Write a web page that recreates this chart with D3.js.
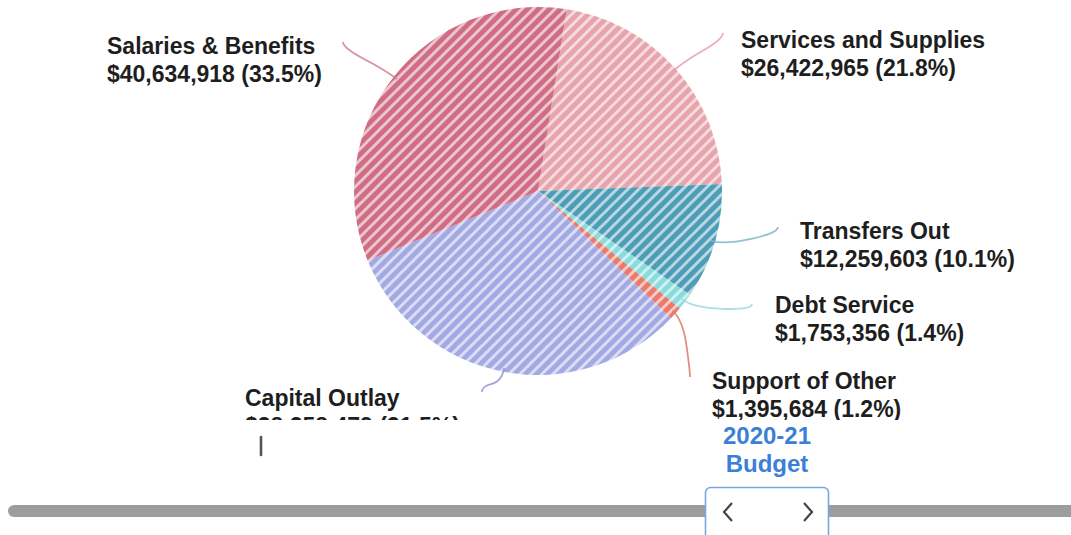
<!DOCTYPE html>
<html>
<head>
<meta charset="utf-8">
<script src="https://cdn.jsdelivr.net/npm/d3@7"></script>
<style>
  html, body { margin: 0; padding: 0; background: #fff; overflow: hidden; }
  svg { display: block; }
</style>
</head>
<body>
<svg id="chart" width="1071" height="535"></svg>
<script>
// ---- data ----
const categories = ["Services and Supplies", "Transfers Out", "Debt Service", "Support of Other", "Capital Outlay", "Salaries & Benefits"];
const amounts = [26422965, 12259603, 1753356, 1395684, 38258479, 40634918];
const percentLabels = ["21.8%", "10.1%", "1.4%", "1.2%", "31.5%", "33.5%"];
const periodLabel = ["2020-21", "Budget"];

// ---- style / layout ----
const colors = ["#e8a4ad", "#4e9db7", "#88dcdc", "#ea7a6b", "#a3aae3", "#cf6d84"];
const lineColors = ["#e7a0ad", "#7db7c9", "#9fd9de", "#e07a6c", "#8f96d6", "#d27c90"];
const labelPos = [
  { x: 741, y: 48, ex: 723, ey: 33 },
  { x: 800, y: 239, ex: 778, ey: 227 },
  { x: 775, y: 313, ex: 752, ey: 304 },
  { x: 712, y: 389, ex: 690, ey: 377 },
  { x: 245, y: 406, ex: 482, ey: 392 },
  { x: 107, y: 54, ex: 343, ey: 42 }
];
const cx = 538, cy = 191, R = 184;
const startDeg = 9;
const fontFamily = "'Liberation Sans', Arial, sans-serif";

const svg = d3.select("#chart");
const defs = svg.append("defs");

const P = 11;
colors.forEach((c, i) => {
  const p = defs.append("pattern")
    .attr("id", "pat" + i)
    .attr("patternUnits", "userSpaceOnUse")
    .attr("width", P).attr("height", P);
  p.append("rect").attr("width", P).attr("height", P).attr("fill", c);
  p.append("path")
    .attr("d", `M0,${P} L${P},0 M${-P/2},${P/2} L${P/2},${-P/2} M${P/2},${P*1.5} L${P*1.5},${P/2}`)
    .attr("stroke", "#fff").attr("stroke-opacity", 0.6).attr("stroke-width", 3);
});

defs.append("clipPath").attr("id", "chartClip")
  .append("rect").attr("x", 0).attr("y", 0).attr("width", 1071).attr("height", 420);

const data = categories.map((c, i) => ({ name: c, value: amounts[i], pct: percentLabels[i], i }));

const pie = d3.pie().sort(null).value(d => d.value)
  .startAngle(startDeg * Math.PI / 180)
  .endAngle(startDeg * Math.PI / 180 + 2 * Math.PI);
const arcs = pie(data);
const arc = d3.arc().innerRadius(0).outerRadius(R);

const chart = svg.append("g").attr("clip-path", "url(#chartClip)");
const g = chart.append("g").attr("transform", `translate(${cx},${cy})`);

g.selectAll("path.slice").data(arcs).enter().append("path")
  .attr("class", "slice")
  .attr("d", arc)
  .attr("fill", d => `url(#pat${d.data.i})`);

// connectors
const fmt = d3.format(",");
chart.selectAll("path.conn").data(arcs).enter().append("path")
  .attr("class", "conn")
  .attr("fill", "none")
  .attr("stroke", d => lineColors[d.data.i])
  .attr("stroke-width", 1.8)
  .attr("stroke-opacity", 0.85)
  .attr("d", d => {
    const a = (d.startAngle + d.endAngle) / 2;
    const sx = cx + Math.sin(a) * (R - 4), sy = cy - Math.cos(a) * (R - 4);
    const mx = cx + Math.sin(a) * (R + 10), my = cy - Math.cos(a) * (R + 10);
    const lp = labelPos[d.data.i];
    return `M${sx},${sy} Q${mx},${my} ${(mx + lp.ex) / 2},${(my + lp.ey) / 2 + (lp.ey < my ? 3 : -3)} T${lp.ex},${lp.ey}`;
  });

// labels
const lab = chart.selectAll("text.lab").data(arcs).enter().append("text")
  .attr("class", "lab")
  .attr("x", d => labelPos[d.data.i].x)
  .attr("y", d => labelPos[d.data.i].y)
  .attr("font-family", fontFamily)
  .attr("font-weight", "bold")
  .attr("font-size", 23)
  .attr("fill", "#1e1e1e");
lab.append("tspan").text(d => d.data.name);
lab.append("tspan")
  .attr("x", d => labelPos[d.data.i].x)
  .attr("dy", 28)
  .text(d => `$${fmt(d.data.value)} (${d.data.pct})`);

// small tick mark
svg.append("line")
  .attr("x1", 261).attr("x2", 261).attr("y1", 437).attr("y2", 455)
  .attr("stroke", "#555").attr("stroke-width", 2.6).attr("stroke-linecap", "round");

// period label
svg.append("text")
  .attr("x", 767).attr("y", 444)
  .attr("text-anchor", "middle")
  .attr("font-family", fontFamily).attr("font-weight", "bold").attr("font-size", 24)
  .attr("fill", "#3b7fd8")
  .selectAll("tspan").data(periodLabel).enter().append("tspan")
  .attr("x", 767).attr("dy", (d, i) => i === 0 ? 0 : 28)
  .text(d => d);

// slider track
svg.append("rect")
  .attr("x", 8).attr("y", 505).attr("width", 1080).attr("height", 12)
  .attr("rx", 6).attr("fill", "#9b9d9f");

// handle
svg.append("rect")
  .attr("x", 705.5).attr("y", 487.5).attr("width", 123).attr("height", 60)
  .attr("rx", 5).attr("fill", "#fff").attr("stroke", "#78a6e2").attr("stroke-width", 1.6);
svg.append("path")
  .attr("d", "M732,503 L724,512 L732,521")
  .attr("fill", "none").attr("stroke", "#444").attr("stroke-width", 2.2);
svg.append("path")
  .attr("d", "M804,503 L812,512 L804,521")
  .attr("fill", "none").attr("stroke", "#444").attr("stroke-width", 2.2);
</script>
</body>
</html>
